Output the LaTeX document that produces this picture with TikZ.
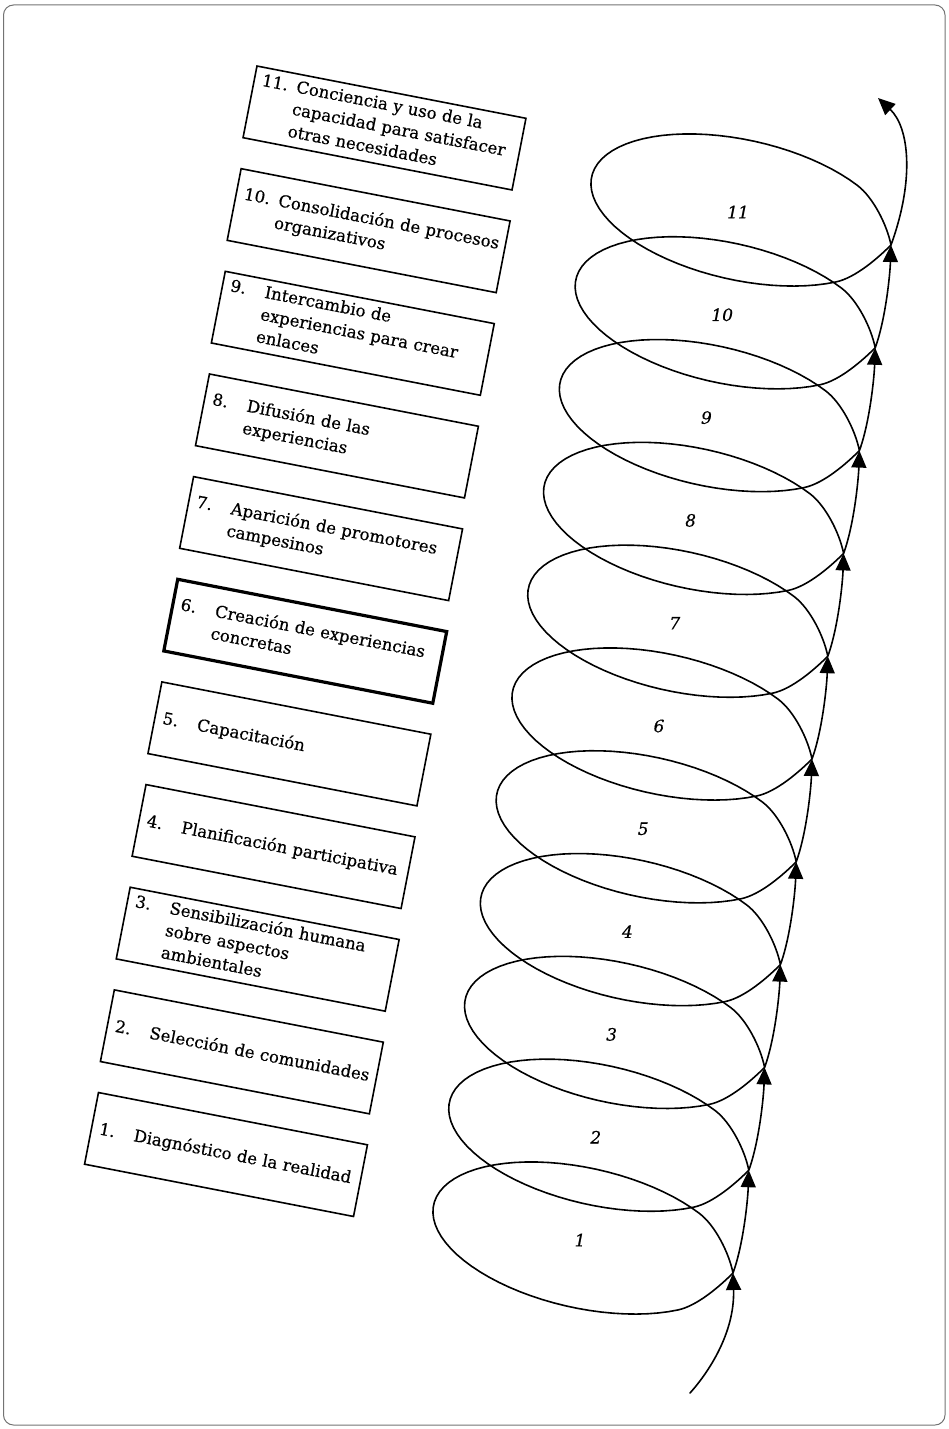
\documentclass[tikz,border=0pt]{standalone}
\usepackage{fontspec}
\setmainfont{DejaVu Serif}
\newfontfamily\cajafont{DejaVu Serif}[FakeBold=0.5]
\usetikzlibrary{arrows.meta}
\newcommand\pasotxt[2]{\begin{tabular}{@{}p{35pt}@{}l@{}}#1 & #2\end{tabular}}
\begin{document}
\begin{tikzpicture}[x=1pt,y=-1pt,
  etapa/.style={draw, line width=1.6pt, rotate=-11, text width=258pt, inner xsep=8pt,
    inner ysep=0pt, minimum height=73pt, align=left,
    font=\cajafont\fontsize{16.6}{22.5}\selectfont},
  etapagruesa/.style={etapa, line width=3.2pt},
  vuelta/.style={line width=1.6pt, line cap=round, line join=round},
  punta/.style={-{Triangle[length=17pt,width=15pt]}},
  numvuelta/.style={font=\cajafont\fontsize{17}{20}\selectfont\itshape, inner sep=0pt},
  marco/.style={line width=1pt, draw=black!55, rounded corners=10pt}]

\useasboundingbox (0,0) rectangle (948,1429);
\draw[marco] (3.5,5) rectangle (945,1425);

% etapas
\node[etapa] (b1) at (226,1154.5) {\pasotxt{1.}{Diagnóstico de la realidad}};
\node[etapa] (b2) at (241.85,1051.85) {\pasotxt{2.}{Selección de comunidades}};
\node[etapa] (b3) at (257.7,949.2) {\pasotxt{3.}{Sensibilización humana\\ & sobre aspectos\\ & ambientales}};
\node[etapa] (b4) at (273.55,846.55) {\pasotxt{4.}{Planificación participativa}};
\node[etapa] (b5) at (289.4,743.9) {\pasotxt{5.}{Capacitación}};
\node[etapagruesa] (b6) at (305.25,641.25) {\pasotxt{6.}{Creación de experiencias\\ & concretas}};
\node[etapa] (b7) at (321.1,538.6) {\pasotxt{7.}{Aparición de promotores\\ & campesinos}};
\node[etapa] (b8) at (336.95,435.95) {\pasotxt{8.}{Difusión de las\\ & experiencias}};
\node[etapa] (b9) at (352.8,333.3) {\pasotxt{9.}{Intercambio de\\ & experiencias para crear\\ & enlaces}};
\node[etapa] (b10) at (368.65,230.65) {\pasotxt{10.}{Consolidación de procesos\\ & organizativos}};
\node[etapa] (b11) at (384.5,128) {\pasotxt{11.}{Conciencia y uso de la\\ & capacidad para satisfacer\\ & otras necesidades}};

% puntos de la espiral
\foreach \k in {1,...,11} {
  \coordinate (A\k) at ({733+15.8*(\k-1)},{1273-102.8*(\k-1)});
}
\coordinate (inicio) at (690,1393);
\coordinate (fin) at (878,98);

% entrada
\begin{scope}[shift={(A1)}]
  \draw[vuelta,punta] (inicio) .. controls (-25,100) and (2,60) .. (A1);
\end{scope}

% vueltas 1..10
\foreach \k [evaluate=\k as \n using int(\k+1)] in {1,...,10} {
  \begin{scope}[shift={(A\k)}]
    \draw[vuelta,punta] (A\k) .. controls (-4,-20) and (-17.7,-47.5) .. (-33.6,-59.6)
      -- plot[domain=45:315, samples=60, variable=\t]
         ({-150+149.3*cos(\t)+15.33*sin(\t)}, {-35+33.5*cos(\t)-68.3*sin(\t)})
      .. controls (-35.6,32.9) and (-12.7,12.7) .. (0,0)
      .. controls (10.3,-28.2) and (14.8,-72.8) .. (A\n);
    \node[numvuelta] (n\k) at (-153,-33) {\k};
  \end{scope}
}

% vuelta 11 y salida
\begin{scope}[shift={(A11)}]
  \draw[vuelta,punta] (A11) .. controls (-4,-20) and (-17.7,-47.5) .. (-33.6,-59.6)
    -- plot[domain=45:315, samples=60, variable=\t]
       ({-150+149.3*cos(\t)+15.33*sin(\t)}, {-35+33.5*cos(\t)-68.3*sin(\t)})
    .. controls (-35.6,32.9) and (-12.7,12.7) .. (0,0)
    .. controls (24,-66) and (18,-118) .. (fin);
  \node[numvuelta] (n11) at (-153,-33) {11};
\end{scope}
\end{tikzpicture}
\end{document}
